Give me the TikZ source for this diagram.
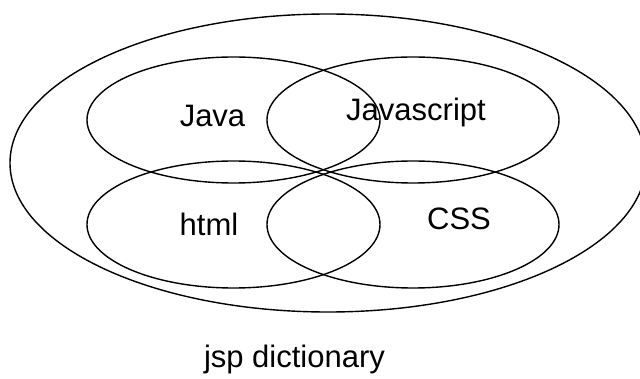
\documentclass[tikz,border=0pt]{standalone}
\usepackage{fontspec}
\setmainfont{Liberation Sans}
\usetikzlibrary{shapes.geometric}
\begin{document}
\begin{tikzpicture}[x=1pt,y=-1pt,
  ring/.style={ellipse,draw=black,line width=1.4pt,inner sep=0pt,outer sep=0pt},
  lbl/.style={anchor=base,inner sep=0pt,font=\fontsize{31}{36}\selectfont}]
\useasboundingbox (0,0) rectangle (640,379);
\clip (0,0) rectangle (640,379);
\node[ring,minimum width=636pt,minimum height=298pt] (outer) at (328,163) {};
\node[ring,minimum width=293pt,minimum height=126pt] (java) at (233.5,120) {};
\node[ring,minimum width=292pt,minimum height=126pt] (js) at (413,120) {};
\node[ring,minimum width=293pt,minimum height=127pt] (html) at (233.5,224.5) {};
\node[ring,minimum width=292pt,minimum height=127pt] (css) at (413,224.5) {};
\node[lbl] (tjava) at (212.5,127) {Java};
\node[lbl] (tjs) at (416,121) {Javascript};
\node[lbl] (thtml) at (209,236) {html};
\node[lbl] (tcss) at (459,230) {CSS};
\node[lbl] (tjsp) at (294.5,367) {jsp dictionary};
\end{tikzpicture}
\end{document}
